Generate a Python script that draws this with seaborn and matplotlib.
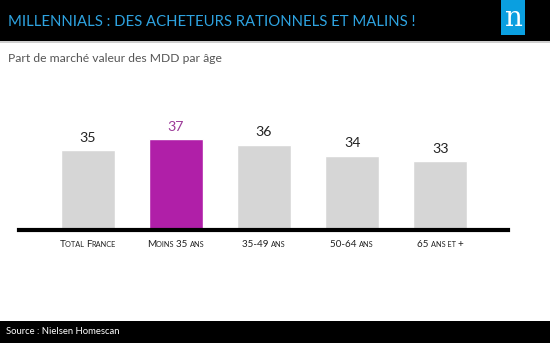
import matplotlib
matplotlib.use("Agg")
import matplotlib.pyplot as plt
import seaborn as sns
import pandas as pd
from matplotlib.offsetbox import TextArea, HPacker, AnnotationBbox
from matplotlib.patches import Rectangle

categories = ["Total France", "Moins 35 ans", "35-49 ans", "50-64 ans", "65 ans et +"]
values = [35, 37, 36, 34, 33]
bar_colors = ["#d6d6d6", "#b01fa8", "#d6d6d6", "#d6d6d6", "#d6d6d6"]
label_colors = ["#222222", "#9c3a98", "#222222", "#222222", "#222222"]

title = "MILLENNIALS : DES ACHETEURS RATIONNELS ET MALINS !"
subtitle = "Part de marché valeur des MDD par âge"
source = "Source : Nielsen Homescan"

sns.set_theme(style="white")
plt.rcParams['font.family'] = ['Lato', 'DejaVu Sans']

W, H = 550, 343
fig = plt.figure(figsize=(5.5, 3.43), dpi=100)
fig.patch.set_facecolor("white")

# header band
fig.add_artist(Rectangle((0, 1 - 41 / H), 1, 41 / H, transform=fig.transFigure,
                         facecolor="black", edgecolor="none", zorder=0))
fig.add_artist(Rectangle((0, 1 - 43 / H), 1, 2 / H, transform=fig.transFigure,
                         facecolor="#cfcfcf", edgecolor="none", zorder=0))
# logo
fig.add_artist(Rectangle((501 / W, 1 - 35 / H), 24 / W, 35 / H, transform=fig.transFigure,
                         facecolor="#0a9fe0", edgecolor="none", zorder=1))
fig.text(513 / W, 1 - 19 / H, "n", color="white", fontsize=20, family="DejaVu Serif",
         ha="center", va="center", zorder=2)
fig.text(8 / W, 1 - 22.5 / H, title, color="#2ea3e0", fontsize=10.75, weight="normal",
         ha="left", va="center", zorder=5)
fig.text(8 / W, 1 - 58 / H, subtitle, color="#555555", fontsize=8.7,
         ha="left", va="center")

# footer band
fig.add_artist(Rectangle((0, 0), 1, 22 / H, transform=fig.transFigure,
                         facecolor="black", edgecolor="none", zorder=0))
fig.text(6 / W, 11 / H, source, color="white", fontsize=6.8, ha="left", va="center")

# axes
ax_left, ax_right = 19, 508
ax_bottom_px, ax_top_px = 229.5, 100
ax = fig.add_axes([ax_left / W, 1 - ax_bottom_px / H, (ax_right - ax_left) / W,
                   (ax_bottom_px - ax_top_px) / H])
ax.set_facecolor("none")

df = pd.DataFrame({"cat": categories, "val": values})
sns.barplot(data=df, x="cat", y="val", hue="cat", palette=bar_colors, legend=False,
            width=0.61, ax=ax, saturation=1)

ax.set_xlim(-0.78, 4.77)
ax.set_ylim(20.55, 44.09)
for s in ["top", "right", "left"]:
    ax.spines[s].set_visible(False)
ax.spines["bottom"].set_linewidth(3)
ax.spines["bottom"].set_color("black")
ax.set_yticks([])
ax.set_xticks(range(len(categories)))
ax.set_xticklabels([""] * len(categories))
ax.tick_params(length=0)
ax.set_xlabel("")
ax.set_ylabel("")

for i, (v, c) in enumerate(zip(values, label_colors)):
    ax.annotate(str(v), (i, v), xytext=(0, 4.5), textcoords="offset points",
                ha="center", va="bottom", fontsize=10.2, color=c, weight="normal")


def small_caps(text, big=7.1, small=5.3, color="#222222"):
    runs = []
    cur, cur_small = "", None
    for ch in text:
        is_small = ch.islower()
        if cur_small is None or is_small == cur_small or ch == " ":
            cur += ch
            if cur_small is None and ch != " ":
                cur_small = is_small
        else:
            runs.append((cur, cur_small))
            cur, cur_small = ch, is_small
    runs.append((cur, cur_small))
    boxes = []
    for t, sm in runs:
        boxes.append(TextArea(t.upper(), textprops=dict(
            fontsize=small if sm else big, color=color, family=['Lato', 'DejaVu Sans'])))
    return HPacker(children=boxes, align="baseline", pad=0, sep=0)


for i, lab in enumerate(categories):
    ab = AnnotationBbox(small_caps(lab), (i, -15 / (ax_bottom_px - ax_top_px)),
                        xycoords=("data", "axes fraction"), frameon=False,
                        box_alignment=(0.5, 0.5), pad=0, annotation_clip=False)
    ax.add_artist(ab)

fig.savefig("out.png", dpi=100, facecolor=fig.get_facecolor())
